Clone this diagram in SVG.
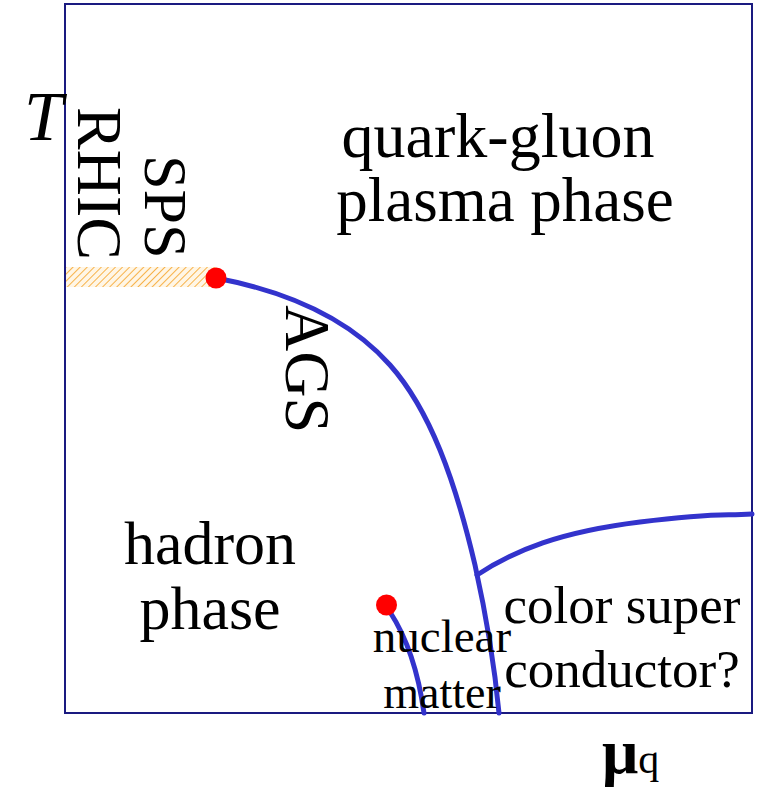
<svg xmlns="http://www.w3.org/2000/svg" width="765" height="790" viewBox="0 0 765 790">
<style>
.t{font-family:"Liberation Serif","Times New Roman",serif;fill:#000}
.curve{fill:none;stroke:#3333cc;stroke-width:5;stroke-linecap:round}
.dot{fill:#ff0000}
</style>
<defs>
<pattern id="hatch" width="5" height="5" patternUnits="userSpaceOnUse" patternTransform="rotate(45)">
<rect width="5" height="5" fill="#fff6e6"/>
<line x1="0" y1="0" x2="0" y2="5" stroke="#f7b24a" stroke-width="2"/>
</pattern>
</defs>
<rect width="765" height="790" fill="#fff"/>
<rect id="frame" x="65" y="4" width="687" height="709" fill="none" stroke="#1a1a80" stroke-width="2"/>
<rect id="band" x="66" y="267" width="150" height="20" fill="url(#hatch)"/>
<g id="connectors">
<path class="curve" d="M216,278 C290,292 350,320 390,365 C430,410 455,480 475,565 C485,610 494,660 499,713"/>
<path class="curve" d="M477,575 C515,550 560,532 640,522 S720,516 752,514"/>
<path class="curve" d="M390,612 C405,635 418,670 424,713"/>
</g>
<g id="critical-point"><circle class="dot" cx="216" cy="278" r="10.5"/></g>
<g id="nuclear-point"><circle class="dot" cx="386.5" cy="605" r="10.5"/></g>
<g id="labels">
<text class="t" x="24" y="140" font-size="70" font-style="italic">T</text>
<text class="t" font-size="64" transform="translate(78,107) rotate(90)">RHIC</text>
<text class="t" font-size="62" transform="translate(145,155) rotate(90)">SPS</text>
<text class="t" font-size="64" transform="translate(286,305) rotate(90)">AGS</text>
<text class="t" font-size="64" text-anchor="middle" x="498" y="157">quark-gluon</text>
<text class="t" font-size="63" text-anchor="middle" x="505" y="221">plasma phase</text>
<text class="t" font-size="62" text-anchor="middle" x="210" y="564">hadron</text>
<text class="t" font-size="62" text-anchor="middle" x="210" y="629">phase</text>
<text class="t" font-size="47" text-anchor="middle" x="442" y="652">nuclear</text>
<text class="t" font-size="46" text-anchor="middle" x="442" y="708">matter</text>
<text class="t" font-size="53" text-anchor="middle" x="622" y="623">color super</text>
<text class="t" font-size="53" text-anchor="middle" x="622" y="687">conductor?</text>
<text class="t" x="602" y="773"><tspan font-size="64" font-weight="bold">μ</tspan><tspan font-size="42">q</tspan></text>
</g>
</svg>
